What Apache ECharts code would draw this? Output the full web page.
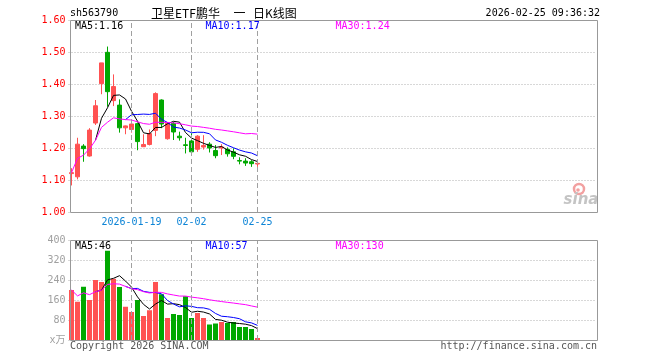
<!DOCTYPE html>
<html><head><meta charset="utf-8">
<script src="https://cdn.jsdelivr.net/npm/echarts@6/dist/echarts.min.js"></script>
<style>html,body{margin:0;padding:0;background:#fff}#c{width:660px;height:360px}</style>
</head><body><div id="c"></div>
<script>
// ---- data ----
const dates = ['2026-01-05','2026-01-06','2026-01-07','2026-01-08','2026-01-09',
  '2026-01-12','2026-01-13','2026-01-14','2026-01-15','2026-01-16',
  '2026-01-19','2026-01-20','2026-01-21','2026-01-22','2026-01-23',
  '2026-01-26','2026-01-27','2026-01-28','2026-01-29','2026-01-30',
  '2026-02-02','2026-02-03','2026-02-04','2026-02-05','2026-02-06',
  '2026-02-09','2026-02-10','2026-02-11','2026-02-12','2026-02-13',
  '2026-02-24','2026-02-25'];
const opens  = [1.120,1.110,1.206,1.175,1.278,1.401,1.499,1.348,1.334,1.263,
  1.258,1.276,1.204,1.211,1.255,1.350,1.229,1.277,1.237,1.210,
  1.222,1.196,1.203,1.212,1.192,1.200,1.196,1.188,1.161,1.159,1.157,1.150];
const closes = [1.123,1.212,1.198,1.256,1.332,1.466,1.376,1.392,1.263,1.269,
  1.275,1.220,1.211,1.245,1.370,1.275,1.277,1.250,1.232,1.208,
  1.188,1.237,1.208,1.200,1.176,1.203,1.182,1.174,1.159,1.153,1.151,1.152];
const lows   = [1.083,1.102,1.157,1.173,1.272,1.368,1.329,1.331,1.248,1.243,
  1.248,1.193,1.204,1.208,1.237,1.262,1.226,1.225,1.223,1.183,
  1.178,1.188,1.195,1.186,1.168,1.178,1.173,1.165,1.149,1.144,1.141,1.141];
const highs  = [1.137,1.232,1.212,1.262,1.350,1.466,1.517,1.430,1.352,1.270,
  1.281,1.279,1.243,1.258,1.374,1.352,1.280,1.282,1.251,1.232,
  1.246,1.240,1.240,1.218,1.209,1.212,1.202,1.199,1.171,1.168,1.162,1.159];
const volumes = [200,153,213,160,240,232,357,245,212,133,112,160,96,119,232,183,
  88,104,100,175,88,108,88,62,66,72,68,72,52,52,44,8];
const markDates = ['2026-01-19','2026-02-02','2026-02-25'];
const markLabels = ['2026-01-19','02-02','02-25'];
const priceTicks = [1.0,1.1,1.2,1.3,1.4,1.5,1.6];
const volTicks = [0,80,160,240,320,400];
const priceLegend = ['MA5:1.16','MA10:1.17','MA30:1.24'];
const volLegend = ['MA5:46','MA10:57','MA30:130'];
const titleParts = ['卫星ETF鹏华', '一', '日K线图'];
const totalSlots = 88;

// ---- derived ----
function movingAvg(vals, n, expanding) {
  return vals.map((v, i) => {
    if (i < n - 1 && !expanding) return '-';
    const s = Math.max(0, i - n + 1);
    let sum = 0;
    for (let k = s; k <= i; k++) sum += vals[k];
    return sum / (i - s + 1);
  });
}
const UP = '#ff5252', DOWN = '#00a800';
const axisData = dates.slice();
for (let i = dates.length; i < totalSlots; i++) axisData.push('slot' + i);
const kData = dates.map((d, i) => [opens[i], closes[i], lows[i], highs[i]]);
const volData = volumes.map((v, i) => ({value: v, itemStyle: {color: closes[i] >= opens[i] ? UP : DOWN}}));
const markIdx = markDates.map(d => dates.indexOf(d));
const MONO = '"DejaVu Sans Mono", "Liberation Mono", monospace';
const CJK = '12px "Noto Sans CJK SC"';

const vLines = {
  symbol: 'none', silent: true, label: {show: false},
  lineStyle: {color: '#a0a0a0', type: [5, 3], width: 1},
  data: markDates.map(d => ({xAxis: d}))
};
const gridL = 68.5, gridW = 528;

const chart = echarts.init(document.getElementById('c'), null, {renderer: 'canvas'});
chart.setOption({
  animation: false,
  backgroundColor: '#fff',
  grid: [
    {left: gridL, top: 20, width: gridW, height: 192},
    {left: gridL, top: 240, width: gridW, height: 100}
  ],
  xAxis: [
    {type: 'category', gridIndex: 0, data: axisData, boundaryGap: true,
      axisLine: {show: false}, axisTick: {show: false}, splitLine: {show: false},
      axisLabel: {interval: (idx) => markIdx.includes(idx),
        formatter: (val, idx) => { const k = markIdx.indexOf(idx); return k >= 0 ? markLabels[k] : ''; },
        color: '#0d84d6', fontSize: 10, fontFamily: MONO, margin: 5}},
    {type: 'category', gridIndex: 1, data: axisData, boundaryGap: true,
      axisLine: {show: false}, axisTick: {show: false}, axisLabel: {show: false}, splitLine: {show: false}}
  ],
  yAxis: [
    {type: 'value', gridIndex: 0, min: priceTicks[0], max: priceTicks[priceTicks.length - 1], interval: 0.1,
      axisLine: {show: false}, axisTick: {show: false},
      axisLabel: {color: '#ff0000', fontSize: 10, fontFamily: MONO, margin: 3, formatter: v => v.toFixed(2)},
      splitLine: {show: true, lineStyle: {color: '#b0b0b0', type: [1, 2], width: 1}}},
    {type: 'value', gridIndex: 1, min: volTicks[0], max: volTicks[volTicks.length - 1], interval: 80,
      axisLine: {show: false}, axisTick: {show: false},
      axisLabel: {color: '#a0a0a0', fontSize: 10, fontFamily: MONO + ', "Noto Sans CJK SC"', margin: 3,
        formatter: v => v === 0 ? 'x万' : String(v)},
      splitLine: {show: true, lineStyle: {color: '#b0b0b0', type: [1, 2], width: 1}}}
  ],
  series: [
    {type: 'candlestick', xAxisIndex: 0, yAxisIndex: 0, data: kData, barWidth: 5,
      itemStyle: {color: UP, color0: DOWN, borderColor: UP, borderColor0: DOWN, borderWidth: 1},
      markLine: vLines, z: 2},
    {type: 'line', xAxisIndex: 0, yAxisIndex: 0, data: movingAvg(closes, 5, false), showSymbol: false,
      lineStyle: {color: '#000', width: 1}, z: 3},
    {type: 'line', xAxisIndex: 0, yAxisIndex: 0, data: movingAvg(closes, 10, false), showSymbol: false,
      lineStyle: {color: '#0000ff', width: 1}, z: 3},
    {type: 'line', xAxisIndex: 0, yAxisIndex: 0, data: movingAvg(closes, 30, true), showSymbol: false,
      lineStyle: {color: '#ff00ff', width: 1}, z: 3},
    {type: 'bar', xAxisIndex: 1, yAxisIndex: 1, data: volData, barWidth: 5, markLine: vLines, z: 2},
    {type: 'line', xAxisIndex: 1, yAxisIndex: 1, data: movingAvg(volumes, 5, false), showSymbol: false,
      lineStyle: {color: '#000', width: 1}, z: 3},
    {type: 'line', xAxisIndex: 1, yAxisIndex: 1, data: movingAvg(volumes, 10, false), showSymbol: false,
      lineStyle: {color: '#0000ff', width: 1}, z: 3},
    {type: 'line', xAxisIndex: 1, yAxisIndex: 1, data: movingAvg(volumes, 30, true), showSymbol: false,
      lineStyle: {color: '#ff00ff', width: 1}, z: 3}
  ],
  graphic: [
    {type: 'rect', silent: true, z: 100, shape: {x: 70.5, y: 20.5, width: 527, height: 192},
      style: {fill: 'none', stroke: '#999', lineWidth: 1}},
    {type: 'rect', silent: true, z: 100, shape: {x: 70.5, y: 240.5, width: 527, height: 100},
      style: {fill: 'none', stroke: '#999', lineWidth: 1}},
    {type: 'text', silent: true, z: 101, x: 70, y: 13,
      style: {text: 'sh563790', font: '10px ' + MONO, fill: '#000', textAlign: 'left', textVerticalAlign: 'middle'}},
    {type: 'text', silent: true, z: 101, x: 151, y: 13,
      style: {text: titleParts[0], font: CJK, fill: '#000', textAlign: 'left', textVerticalAlign: 'middle'}},
    {type: 'text', silent: true, z: 101, x: 239.5, y: 13,
      style: {text: titleParts[1], font: CJK, fill: '#000', textAlign: 'center', textVerticalAlign: 'middle'}},
    {type: 'text', silent: true, z: 101, x: 253, y: 13,
      style: {text: titleParts[2], font: CJK, fill: '#000', textAlign: 'left', textVerticalAlign: 'middle'}},
    {type: 'text', silent: true, z: 101, x: 600, y: 13,
      style: {text: '2026-02-25 09:36:32', font: '10px ' + MONO, fill: '#000', textAlign: 'right', textVerticalAlign: 'middle'}},
    {type: 'text', silent: true, z: 101, x: 75, y: 26.5,
      style: {text: priceLegend[0], font: '10px ' + MONO, fill: '#000', textVerticalAlign: 'middle'}},
    {type: 'text', silent: true, z: 101, x: 205.5, y: 26.5,
      style: {text: priceLegend[1], font: '10px ' + MONO, fill: '#0000ff', textVerticalAlign: 'middle'}},
    {type: 'text', silent: true, z: 101, x: 335.5, y: 26.5,
      style: {text: priceLegend[2], font: '10px ' + MONO, fill: '#ff00ff', textVerticalAlign: 'middle'}},
    {type: 'text', silent: true, z: 101, x: 75, y: 246.5,
      style: {text: volLegend[0], font: '10px ' + MONO, fill: '#000', textVerticalAlign: 'middle'}},
    {type: 'text', silent: true, z: 101, x: 205.5, y: 246.5,
      style: {text: volLegend[1], font: '10px ' + MONO, fill: '#0000ff', textVerticalAlign: 'middle'}},
    {type: 'text', silent: true, z: 101, x: 335.5, y: 246.5,
      style: {text: volLegend[2], font: '10px ' + MONO, fill: '#ff00ff', textVerticalAlign: 'middle'}},
    {type: 'text', silent: true, z: 101, x: 70, y: 346.5,
      style: {text: 'Copyright 2026 SINA.COM', font: '10px ' + MONO, fill: '#555', textVerticalAlign: 'middle'}},
    {type: 'text', silent: true, z: 101, x: 597, y: 346.5,
      style: {text: 'http://finance.sina.com.cn', font: '10px ' + MONO, fill: '#555', textAlign: 'right', textVerticalAlign: 'middle'}},
    {type: 'circle', silent: true, z: 50, shape: {cx: 579, cy: 189, r: 5},
      style: {fill: 'none', stroke: '#f2a0a0', lineWidth: 2.5}},
    {type: 'circle', silent: true, z: 50, shape: {cx: 578, cy: 190, r: 1.8},
      style: {fill: '#f2a0a0'}},
    {type: 'text', silent: true, z: 50, x: 581, y: 200,
      style: {text: 'sina', font: 'italic bold 15px "DejaVu Sans"', fill: '#c4c4c4', textAlign: 'center', textVerticalAlign: 'middle'}}
  ]
});
</script>
</body></html>
